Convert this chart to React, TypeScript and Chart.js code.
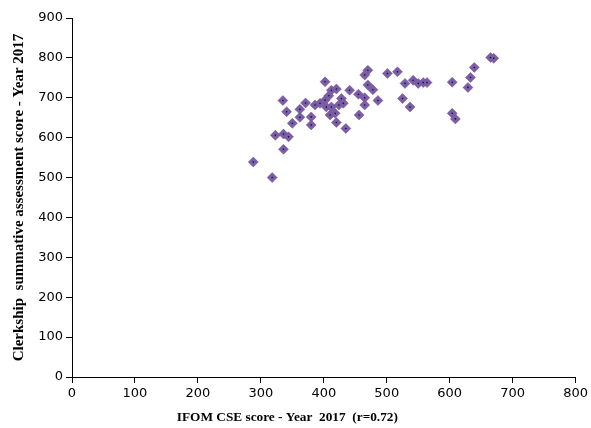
import React, { useEffect, useRef } from "react";
import { Chart, registerables } from "chart.js";

Chart.register(...registerables);

const ifomScores: number[] = [
  288, 318, 323, 336, 344, 336, 335, 341, 350, 362,
  362, 371, 380, 380, 386, 394, 402, 402, 404, 408,
  412, 420, 412, 410, 418, 428, 431, 424, 420, 441,
  435, 455, 465, 470, 465, 456, 470, 478, 486, 465,
  501, 517, 529, 542, 550, 558, 564, 525, 537, 604,
  639, 633, 629, 665, 670, 604, 609,
];
const clerkshipScores: number[] = [
  539, 500, 606, 609, 602, 571, 693, 665, 636, 671,
  651, 687, 652, 632, 682, 686, 740, 694, 677, 705,
  719, 722, 677, 657, 661, 698, 686, 682, 638, 719,
  623, 709, 700, 769, 757, 657, 732, 720, 693, 682,
  761, 765, 736, 744, 736, 738, 738, 698, 677, 739,
  776, 751, 726, 801, 799, 661, 647,
];

const xTicks: number[] = [0, 100, 200, 300, 400, 500, 600, 700, 800];
const yTicks: number[] = [0, 100, 200, 300, 400, 500, 600, 700, 800, 900];

const X_TITLE = "IFOM CSE score - Year  2017  (r=0.72)";
const Y_TITLE = "Clerkship  summative assessment score - Year 2017";

const axisTitles = {
  id: "axisTitles",
  afterDraw(chart: any) {
    const { ctx, chartArea } = chart;
    ctx.save();
    ctx.fillStyle = "#000";
    ctx.textAlign = "center";
    ctx.textBaseline = "middle";
    ctx.font = 'bold 13.3px "Liberation Serif", "Times New Roman", serif';
    ctx.fillText(X_TITLE, chartArea.left + chartArea.width * 0.4276, chartArea.bottom + 41);
    ctx.font = 'bold 15px "Liberation Serif", "Times New Roman", serif';
    ctx.translate(19, chartArea.top + chartArea.height * 0.5);
    ctx.rotate(-Math.PI / 2);
    ctx.fillText(Y_TITLE, 0, 0);
    ctx.restore();
  },
};

export default function App() {
  const ref = useRef<HTMLCanvasElement>(null);

  useEffect(() => {
    if (!ref.current) return;
    const points = ifomScores.map((x, i) => ({ x, y: clerkshipScores[i] }));
    const tickFont = { family: '"DejaVu Sans", Verdana, sans-serif', size: 13 };
    const chart = new Chart(ref.current, {
      type: "scatter",
      data: {
        datasets: [
          {
            label: "centers",
            data: points,
            pointStyle: "circle",
            pointRadius: 0.8,
            pointBackgroundColor: "#111",
            pointBorderWidth: 0,
            pointBorderColor: "#111",
          },
          {
            label: "scores",
            data: points,
            pointStyle: "rectRot",
            pointRadius: 5,
            pointBackgroundColor: "#7B5EA7",
            pointBorderColor: "#6E529C",
            pointBorderWidth: 0.5,
          },
        ],
      },
      options: {
        responsive: false,
        animation: false,
        layout: { padding: { top: 18, right: 15, left: 0, bottom: 0 } },
        plugins: {
          legend: { display: false },
          tooltip: { enabled: false },
        },
        scales: {
          x: {
            type: "linear",
            min: 0,
            max: 800,
            afterFit: (s: any) => {
              s.height = 51;
            },
            afterBuildTicks: (s: any) => {
              s.ticks = xTicks.map((v) => ({ value: v }));
            },
            grid: {
              display: true,
              drawOnChartArea: false,
              drawTicks: true,
              tickLength: 6,
              color: "#000",
            },
            border: { display: true, color: "#000", width: 1 },
            ticks: {
              color: "#000",
              font: tickFont,
              padding: 3,
              maxRotation: 0,
            },
          },
          y: {
            type: "linear",
            min: 0,
            max: 900,
            afterFit: (s: any) => {
              s.width = 72;
            },
            afterBuildTicks: (s: any) => {
              s.ticks = yTicks.map((v) => ({ value: v }));
            },
            grid: {
              display: true,
              drawOnChartArea: false,
              drawTicks: true,
              tickLength: 6,
              color: "#000",
            },
            border: { display: true, color: "#000", width: 1 },
            ticks: {
              color: "#000",
              font: tickFont,
              padding: 3,
            },
          },
        },
      },
      plugins: [axisTitles],
    });
    return () => chart.destroy();
  }, []);

  return (
    <div style={{ position: "absolute", left: 0, top: 0, width: 591, height: 428, background: "#fff" }}>
      <canvas ref={ref} width={591} height={428} />
    </div>
  );
}
